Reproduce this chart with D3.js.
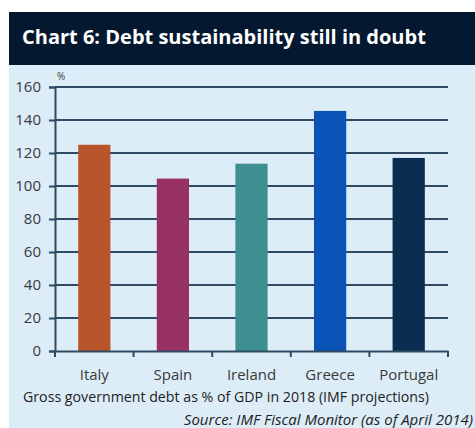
<!DOCTYPE html>
<meta charset="utf-8">
<title>Chart 6</title>
<style>
body { margin: 0; background: #fff; }
svg text { font-family: "Open Sans", "Lato", sans-serif; }
</style>
<script src="https://d3js.org/d3.v7.min.js"></script>
<div id="chart"></div>
<script>

var countries = ["Italy", "Spain", "Ireland", "Greece", "Portugal"],
    debt = [125, 104.5, 113.5, 145.5, 117],
    colors = ["#b9552b", "#983262", "#3e8f8f", "#0b53b6", "#0a2d50"],
    yTicks = [0, 20, 40, 60, 80, 100, 120, 140, 160];

var width = 475, height = 428;

var svg = d3.select("#chart").append("svg")
    .attr("width", width)
    .attr("height", height);

// panel background + header
svg.append("rect")
    .attr("x", 9).attr("y", 64)
    .attr("width", width - 9).attr("height", height - 64)
    .attr("fill", "#dcedf8");

svg.append("rect")
    .attr("x", 9).attr("y", 12)
    .attr("width", width - 9).attr("height", 53)
    .attr("fill", "#04182f");

svg.append("text")
    .attr("x", 22).attr("y", 44)
    .attr("fill", "#fff")
    .style("font-size", "20px")
    .style("font-weight", "bold")
    .text("Chart 6: Debt sustainability still in doubt");

var margin = {left: 55, right: 27, top: 87, bottom: 77};

var x = d3.scaleBand()
    .domain(countries)
    .range([margin.left, width - margin.right])
    .paddingInner(0.59)
    .paddingOuter(0.295);

var y = d3.scaleLinear()
    .domain([0, 160])
    .range([height - margin.bottom, margin.top]);

// gridlines
svg.append("g")
  .selectAll("line")
  .data(yTicks.slice(1))
  .enter().append("line")
    .attr("x1", margin.left).attr("x2", width - margin.right)
    .attr("y1", function(d) { return y(d); })
    .attr("y2", function(d) { return y(d); })
    .attr("stroke", "#2f4b64")
    .attr("stroke-width", 2);

// bars
svg.append("g")
  .selectAll("rect")
  .data(countries)
  .enter().append("rect")
    .attr("x", function(d) { return x(d); })
    .attr("width", x.bandwidth())
    .attr("y", function(d, i) { return y(debt[i]); })
    .attr("height", function(d, i) { return y(0) - y(debt[i]); })
    .attr("fill", function(d, i) { return colors[i]; });

// y axis
var yAxis = svg.append("g")
    .attr("transform", "translate(" + margin.left + ",0)")
    .call(d3.axisLeft(y).tickValues(yTicks).tickSize(6).tickPadding(8));

// x axis with ticks between bands
var xAxis = svg.append("g")
    .attr("transform", "translate(0," + y(0) + ")")
    .call(d3.axisBottom(x).tickSize(0).tickPadding(18));

var step = x.step();
xAxis.selectAll(".between")
  .data(d3.range(countries.length + 1))
  .enter().append("line")
    .attr("x1", function(d) { return margin.left + d * step; })
    .attr("x2", function(d) { return margin.left + d * step; })
    .attr("y1", 0).attr("y2", 6)
    .attr("stroke", "#2f4b64")
    .attr("stroke-width", 2);

[yAxis, xAxis].forEach(function(a) {
  a.select(".domain").attr("stroke", "#2f4b64").attr("stroke-width", 2);
  a.selectAll(".tick line").attr("stroke", "#2f4b64").attr("stroke-width", 2);
  a.selectAll("text")
      .attr("fill", "#3a3a3a")
      .style("font-size", "15px")
      .style("font-family", "'Open Sans', sans-serif");
});

svg.append("text")
    .attr("x", 57).attr("y", 80)
    .attr("fill", "#3a3a3a")
    .style("font-size", "10px")
    .text("%");

svg.append("text")
    .attr("x", 23).attr("y", 402)
    .attr("fill", "#222")
    .style("font-size", "14.2px")
    .text("Gross government debt as % of GDP in 2018 (IMF projections)");

svg.append("text")
    .attr("x", 473).attr("y", 425)
    .attr("text-anchor", "end")
    .attr("fill", "#222")
    .style("font-size", "15px")
    .style("font-style", "italic")
    .text("Source: IMF Fiscal Monitor (as of April 2014)");
</script>
